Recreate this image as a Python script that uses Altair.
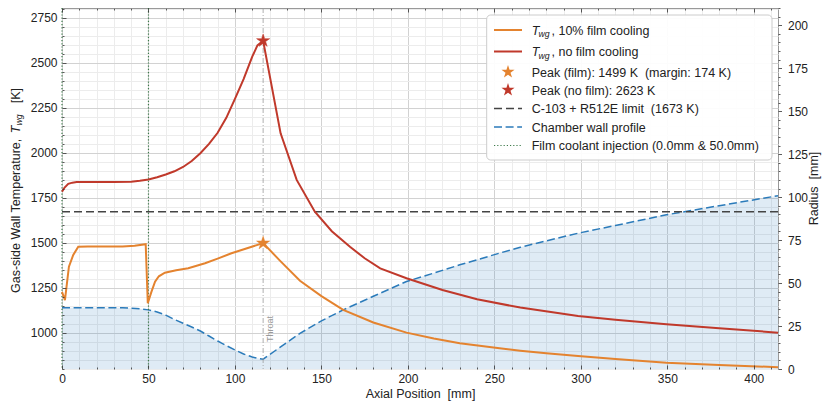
import altair as alt
import pandas as pd

# ---------------- values ----------------
x_nofilm = [0, 1.5, 3.6, 6, 8.5, 20, 30, 40, 45, 50, 55, 60, 65, 70, 75, 80, 85, 90, 95, 100,
            105, 110, 113, 116.3, 126.4, 135.7, 146.2, 156, 166.5, 175, 184, 199.2, 220, 240,
            265, 298.4, 320, 349.5, 380, 414]
t_nofilm = [1785, 1808, 1828, 1835, 1838, 1838, 1838, 1840, 1845, 1853, 1865, 1880, 1898, 1922,
            1955, 1998, 2050, 2112, 2195, 2300, 2410, 2535, 2597, 2623, 2109, 1850, 1674, 1565,
            1479, 1415, 1359, 1304, 1239, 1187, 1141, 1094, 1074, 1048, 1026, 1002]

x_film = [0, 1.7, 4, 6.5, 9.4, 15, 25, 35, 42, 48.4, 49.6, 51.7, 53.8, 56, 59.5, 66, 73, 82.7,
          90, 98, 107, 116.3, 126, 137.6, 150, 162.6, 180, 199.2, 215, 230, 253, 265, 280,
          298.4, 320, 349.5, 380, 414]
t_film = [1228, 1183, 1368, 1433, 1479, 1480, 1480, 1481, 1484, 1493, 1165, 1228, 1285, 1315,
          1335, 1348, 1360, 1387, 1413, 1443, 1471, 1499, 1402, 1290, 1205, 1128, 1058, 1002,
          969, 943, 915, 902, 888, 872, 856, 835, 822, 810]

x_wall = [0, 10, 20, 30, 35, 40, 45, 50, 55, 60, 65, 70, 75, 80, 85, 90, 92.3, 95, 100, 105,
          110, 113, 116.3, 120, 126, 132, 137.6, 145, 150, 162.6, 180, 199.2, 215, 230, 253,
          265, 280, 298.4, 320, 349.5, 380, 414]
r_wall = [35.7, 35.7, 35.7, 35.7, 35.6, 35.4, 35.0, 34.4, 33.2, 31.3, 28.8, 26.6, 24.4, 22.1,
          19.2, 16.3, 15.0, 13.6, 11.1, 8.7, 7.0, 6.2, 5.7, 8.3, 12.6, 16.8, 20.7, 25.1, 28.0,
          34.4, 42.3, 50.9, 55.8, 60.6, 67.4, 70.8, 74.5, 79.0, 83.5, 89.7, 95.0, 100.8]

throat_x = 116.3
injection_x = [0.0, 50.0]
t_limit = 1673
peak_film = 1499
peak_nofilm = 2623
throat_label_t = 1022

x_major_ticks = [0, 50, 100, 150, 200, 250, 300, 350, 400]
x_minor_ticks = [v for v in range(0, 415, 10) if v % 50]
x_grid_values = list(range(0, 415, 10))
t_major_ticks = [1000, 1250, 1500, 1750, 2000, 2250, 2500, 2750]
t_minor_ticks = [v for v in range(800, 2801, 50) if v % 250]
t_grid_values = list(range(800, 2801, 50))
r_major_ticks = [0, 25, 50, 75, 100, 125, 150, 175, 200]
r_minor_ticks = [v for v in range(0, 211, 5) if v % 25]

legend_rest = [", 10% film cooling", ", no film cooling"]
legend_plain = ["Peak (film): 1499 K\u00a0 (margin: 174 K)",
                "Peak (no film): 2623 K",
                "C-103 + R512E limit\u00a0 (1673 K)",
                "Chamber wall profile",
                "Film coolant injection (0.0mm & 50.0mm)"]
x_title = "Axial Position\u00a0 [mm]"
r_title = "Radius\u00a0 [mm]"
y_title_parts = ["Gas-side Wall Temperature, ", "T", "wg", "[K]"]

# ---------------- styles ----------------
FONT = "Liberation Sans"
ORANGE = "#e4832f"
RED = "#c0392b"
BLUE = "#2b7bba"
GREEN = "#3d7a4a"
LIMIT = "#444444"
TXT = "#222222"
TICK = "#333333"
STAR = ("M0,-1L0.225,-0.309L0.951,-0.309L0.363,0.118L0.588,0.809L0,0.382"
        "L-0.588,0.809L-0.363,0.118L-0.951,-0.309L-0.225,-0.309Z")

X_SCALE = alt.Scale(domain=[0, 414], nice=False, zero=False)
T_SCALE = alt.Scale(domain=[800, 2805], nice=False, zero=False)
R_SCALE = alt.Scale(domain=[0, 210], nice=False, zero=False)


def grid_axis(orient, values, test):
    return alt.Axis(orient=orient, values=values, grid=True, ticks=False, labels=False,
                    domain=False, title=None, zindex=0, gridWidth=1,
                    gridColor={"condition": {"test": test, "value": "#d2d2d2"},
                               "value": "#ececec"})


def tick_axis(orient, values, size, inward=True, labels=False, title=None, **kw):
    args = dict(orient=orient, values=values, grid=False, domain=False, ticks=True,
                tickSize=size, tickColor=TICK, tickWidth=0.8, labels=labels,
                zindex=1, labelFlush=False, labelOverlap=False)
    if inward:
        args["offset"] = -size
    if labels:
        args.update(labelFont=FONT, labelFontSize=12, labelColor=TXT, format="d")
    if title is not None:
        args.update(title=title, titleFont=FONT, titleFontSize=12.5,
                    titleFontWeight="normal", titleColor=TXT)
    else:
        args["title"] = None
    args.update(kw)
    return alt.Axis(**args)


X_GRID = grid_axis("bottom", x_grid_values, "datum.value % 50 === 0")
Y_GRID = grid_axis("left", t_grid_values, "datum.value % 250 === 0")
X_MAJ_B = tick_axis("bottom", x_major_ticks, 4, labels=True, title=x_title,
                    labelPadding=4, titlePadding=3)
X_MIN_B = tick_axis("bottom", x_minor_ticks, 2)
X_MAJ_T = tick_axis("top", x_major_ticks, 4)
X_MIN_T = tick_axis("top", x_minor_ticks, 2)
Y_MAJ = tick_axis("left", t_major_ticks, 4, labels=True, labelPadding=5)
Y_MIN = tick_axis("left", t_minor_ticks, 2)
R_MAJ = tick_axis("right", r_major_ticks, 3.5, inward=False, labels=True, labelPadding=6)
R_MIN = tick_axis("right", r_minor_ticks, 2, inward=False)

df_nf = pd.DataFrame({"x": x_nofilm, "t": t_nofilm})
df_f = pd.DataFrame({"x": x_film, "t": t_film})
df_w = pd.DataFrame({"x": x_wall, "r": r_wall})
DUMMY = pd.DataFrame({"k": [0]})

layers = []

layers.append(alt.Chart(df_w).mark_area(color=BLUE, fillOpacity=0.15, strokeWidth=0).encode(
    x=alt.X("x:Q", scale=X_SCALE, axis=X_GRID),
    y=alt.Y("r:Q", scale=R_SCALE, axis=R_MAJ)))

layers.append(alt.Chart(df_w).mark_line(color=BLUE, strokeWidth=1.5, strokeDash=[8, 3.6]).encode(
    x=alt.X("x:Q", scale=X_SCALE, axis=X_MAJ_B),
    y=alt.Y("r:Q", scale=R_SCALE, axis=R_MIN)))

layers.append(alt.Chart(pd.DataFrame({"x": [throat_x]})).mark_rule(
    color="#9a9a9a", strokeWidth=0.8, strokeDash=[5, 2, 1, 2]).encode(
    x=alt.X("x:Q", scale=X_SCALE, axis=None)))

layers.append(alt.Chart(pd.DataFrame({"x": injection_x})).mark_rule(
    color=GREEN, strokeWidth=1.2, strokeDash=[1.2, 2]).encode(
    x=alt.X("x:Q", scale=X_SCALE, axis=X_MIN_T)))

layers.append(alt.Chart(pd.DataFrame({"t": [t_limit]})).mark_rule(
    color=LIMIT, strokeWidth=1.5, strokeDash=[8, 4]).encode(
    y=alt.Y("t:Q", scale=T_SCALE, axis=Y_MIN)))

layers.append(alt.Chart(df_nf).mark_line(color=RED, strokeWidth=2).encode(
    x=alt.X("x:Q", scale=X_SCALE, axis=X_MIN_B),
    y=alt.Y("t:Q", scale=T_SCALE, axis=Y_GRID)))

layers.append(alt.Chart(df_f).mark_line(color=ORANGE, strokeWidth=2).encode(
    x=alt.X("x:Q", scale=X_SCALE, axis=X_MAJ_T),
    y=alt.Y("t:Q", scale=T_SCALE, axis=Y_MAJ)))

for pk, col in [(peak_film, ORANGE), (peak_nofilm, RED)]:
    layers.append(alt.Chart(pd.DataFrame({"x": [throat_x], "t": [pk]})).mark_point(
        shape=STAR, filled=True, size=190, color=col, opacity=1, strokeWidth=0.5,
        stroke=col).encode(
        x=alt.X("x:Q", scale=X_SCALE, axis=None),
        y=alt.Y("t:Q", scale=T_SCALE, axis=None)))

layers.append(alt.Chart(pd.DataFrame({"x": [throat_x], "t": [throat_label_t], "s": ["Throat"]}))
              .mark_text(angle=270, align="center", baseline="top", dy=2.5, fontSize=9,
                         color="#999999", font=FONT).encode(
    x=alt.X("x:Q", scale=X_SCALE, axis=None),
    y=alt.Y("t:Q", scale=T_SCALE, axis=None),
    text="s:N"))

# ---------------- y-axis titles (left one has a subscript) ----------------
yt_base = -42.5
for txt, ypos, size, style, dxb in [
        (y_title_parts[0], 285, 12.5, "normal", 0),
        (y_title_parts[1], 125.2, 12.5, "italic", 0),
        (y_title_parts[2], 117.6, 8.75, "italic", 2.5),
        (y_title_parts[3], 95.3, 12.5, "normal", 0)]:
    layers.append(alt.Chart(DUMMY).mark_text(
        angle=270, align="left", baseline="alphabetic", fontSize=size, font=FONT,
        fontStyle=style, color=TXT).encode(
        x=alt.value(yt_base + dxb), y=alt.value(ypos), text=alt.value(txt)))

layers.append(alt.Chart(DUMMY).mark_text(
    angle=270, align="center", baseline="alphabetic", fontSize=12.5, font=FONT,
    color=TXT).encode(x=alt.value(756), y=alt.value(180.5), text=alt.value(r_title)))

# ---------------- legend ----------------
layers.append(alt.Chart(DUMMY).mark_rect(
    fill="white", fillOpacity=0.92, stroke="#cccccc", strokeWidth=1, cornerRadius=4).encode(
    x=alt.value(424.7), x2=alt.value(710), y=alt.value(7), y2=alt.value(152)))

row_y = [22, 43.5, 64, 82, 100.5, 119, 137.5]
sym_x0, sym_x1, sym_xc, text_x = 432, 460, 446, 469.7

handles = [("line", ORANGE, None, 2), ("line", RED, None, 2), ("star", ORANGE, None, 0),
           ("star", RED, None, 0), ("line", LIMIT, [8, 4], 1.5), ("line", BLUE, [8, 3.6], 1.5),
           ("line", GREEN, [1.2, 2], 1.2)]
for (kind, col, dash, w), yy in zip(handles, row_y):
    if kind == "line":
        kw = dict(color=col, strokeWidth=w)
        if dash:
            kw["strokeDash"] = dash
        layers.append(alt.Chart(DUMMY).mark_rule(**kw).encode(
            x=alt.value(sym_x0), x2=alt.value(sym_x1), y=alt.value(yy)))
    else:
        layers.append(alt.Chart(DUMMY).mark_point(
            shape=STAR, filled=True, size=190, color=col, opacity=1).encode(
            x=alt.value(sym_xc), y=alt.value(yy)))

for i in range(2):
    yb = row_y[i] + 4.5
    for txt, xx, size, style, dyb in [("T", text_x, 12.5, "italic", 0),
                                       ("wg", text_x + 6.8, 8.75, "italic", 2.5),
                                       (legend_rest[i], text_x + 19.8, 12.5, "normal", 0)]:
        layers.append(alt.Chart(DUMMY).mark_text(
            align="left", baseline="alphabetic", fontSize=size, font=FONT, fontStyle=style,
            color=TXT).encode(x=alt.value(xx), y=alt.value(yb + dyb), text=alt.value(txt)))

for txt, yy in zip(legend_plain, row_y[2:]):
    layers.append(alt.Chart(DUMMY).mark_text(
        align="left", baseline="alphabetic", fontSize=12.5, font=FONT, color=TXT).encode(
        x=alt.value(text_x), y=alt.value(yy + 4.5), text=alt.value(txt)))

chart = alt.layer(*layers).resolve_scale(y="independent").resolve_axis(
    x="independent", y="independent").properties(
    width=716, height=361,
    autosize=alt.AutoSizeParams(type="none"),
    padding={"left": 62, "top": 8, "right": 52, "bottom": 41},
    background="white",
).configure_view(stroke="#999999", strokeWidth=1)

chart.save("out.html", embed_options={"renderer": "svg", "actions": False})
